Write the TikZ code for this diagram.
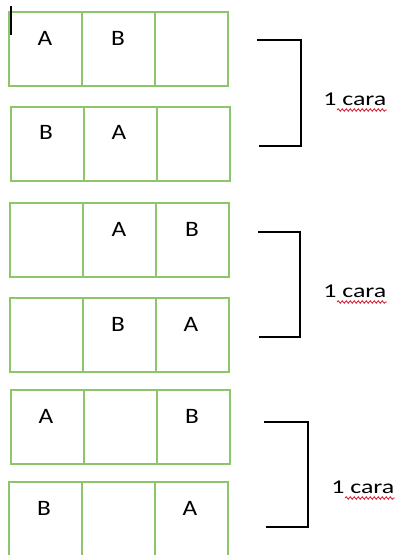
\documentclass[tikz,border=0pt]{standalone}
\usepackage{fontspec}
\setmainfont{Carlito}
\usetikzlibrary{decorations.pathmorphing}
\definecolor{cellgreen}{RGB}{140,198,104}
\definecolor{squiggle}{RGB}{214,40,60}
\tikzset{
  cellbox/.style={draw=cellgreen, line width=1.8pt, minimum width=73pt, minimum height=74pt, inner sep=0pt, outer sep=0pt},
  letter/.style={font=\fontsize{22}{24}\selectfont, anchor=base, inner sep=0pt, xscale=1.15},
  bracketline/.style={draw=black, line width=1.2pt},
  caratext/.style={font=\fontsize{19.5}{22}\selectfont, anchor=base west, inner sep=0pt, xscale=1.33},
  spell/.style={draw=squiggle, line width=0.9pt, decorate, decoration={snake, amplitude=1.2pt, segment length=4pt}}
}
\newcommand{\gridrow}[3]{% name, left x, top y
  \node[cellbox, anchor=north west] (#1a) at (#2,#3) {};
  \node[cellbox, anchor=west] (#1b) at (#1a.east) {};
  \node[cellbox, anchor=west] (#1c) at (#1b.east) {};
}
\begin{document}
\begin{tikzpicture}[x=1pt, y=-1pt]
  \useasboundingbox (0,0) rectangle (395,555);
  \begin{scope}
    \clip (0,0) rectangle (395,555);
    % six rows of three cells
    \gridrow{r1}{9}{12}
    \gridrow{r2}{11}{107}
    \gridrow{r3}{10}{203}
    \gridrow{r4}{10}{298}
    \gridrow{r5}{11}{390}
    \gridrow{r6}{9}{482}
  \end{scope}

  % letters in the cells
  \node[letter] (l1a) at (45,45) {A};
  \node[letter] (l1b) at (118,45) {B};
  \node[letter] (l2a) at (46,139) {B};
  \node[letter] (l2b) at (119,139) {A};
  \node[letter] (l3b) at (119,236) {A};
  \node[letter] (l3c) at (192,236) {B};
  \node[letter] (l4b) at (118,331) {B};
  \node[letter] (l4c) at (191,331) {A};
  \node[letter] (l5a) at (46,423) {A};
  \node[letter] (l5c) at (192,423) {B};
  \node[letter] (l6a) at (44,515) {B};
  \node[letter] (l6c) at (190,515) {A};

  % text cursor
  \draw[line width=2pt] (11,6) coordinate (cur1) -- (11,35) coordinate (cur2);

  % brackets
  \coordinate (b1a) at (257,40);  \coordinate (b1b) at (301,40);
  \coordinate (b1c) at (301,146); \coordinate (b1d) at (259,146);
  \draw[bracketline] (b1a) -- (b1b) -- (b1c) -- (b1d);
  \coordinate (b2a) at (258,232); \coordinate (b2b) at (300,232);
  \coordinate (b2c) at (300,337); \coordinate (b2d) at (259,337);
  \draw[bracketline] (b2a) -- (b2b) -- (b2c) -- (b2d);
  \coordinate (b3a) at (264,422); \coordinate (b3b) at (308,422);
  \coordinate (b3c) at (308,527); \coordinate (b3d) at (266,527);
  \draw[bracketline] (b3a) -- (b3b) -- (b3c) -- (b3d);

  % labels with spell-check underline
  \node[caratext] (t1) at (323,105) {1 cara};
  \node[caratext] (t2) at (323,297) {1 cara};
  \node[caratext] (t3) at (331,493) {1 cara};
  \draw[spell] (337,110) -- (387,110);
  \draw[spell] (337,302) -- (387,302);
  \draw[spell] (345,498) -- (395,498);
\end{tikzpicture}
\end{document}
